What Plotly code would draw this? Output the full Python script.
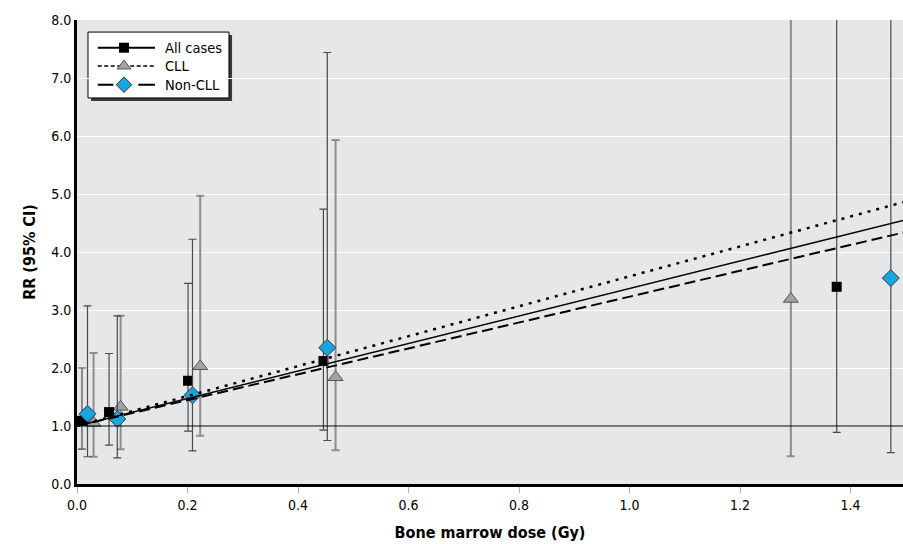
import plotly.graph_objects as go

# ---- data ----
dose_all = [0.009, 0.058, 0.201, 0.446, 1.375]
rr_all = [1.09, 1.24, 1.78, 2.12, 3.40]
lo_all = [0.60, 0.67, 0.91, 0.93, 0.89]
hi_all = [2.00, 2.25, 3.46, 4.74, 12.0]

dose_cll = [0.030, 0.079, 0.223, 0.468, 1.292]
rr_cll = [1.05, 1.33, 2.03, 1.84, 3.19]
lo_cll = [0.47, 0.60, 0.83, 0.58, 0.48]
hi_cll = [2.26, 2.90, 4.97, 5.93, 12.0]

dose_non = [0.019, 0.073, 0.209, 0.453, 1.473]
rr_non = [1.21, 1.12, 1.53, 2.35, 3.55]
lo_non = [0.47, 0.45, 0.57, 0.75, 0.54]
hi_non = [3.07, 2.90, 4.22, 7.44, 12.0]

# fitted linear excess relative risk per Gy
err_all = 2.37
err_cll = 2.58
err_non = 2.23
fit_dose = [0.0, 1.5]

series_names = ["All cases", "CLL", "Non-CLL"]

x_ticks = [0.0, 0.2, 0.4, 0.6, 0.8, 1.0, 1.2, 1.4]
y_ticks = [0, 1, 2, 3, 4, 5, 6, 7, 8]

FONT = "DejaVu Sans Condensed, Liberation Sans Narrow, Arial Narrow, sans-serif"

# styles
SQ = dict(symbol="square", size=10, color="#000000", line=dict(color="#000000", width=0))
TRI = dict(symbol="triangle-up", size=13, color="#a3a3a3", line=dict(color="#555555", width=1))
DIA = dict(symbol="diamond", size=13, color="#18a6e0", line=dict(color="#333333", width=1))

fig = go.Figure()


def err(vals, lo, hi):
    return dict(type="data", symmetric=False,
                array=[h - v for v, h in zip(vals, hi)],
                arrayminus=[v - l for v, l in zip(vals, lo)])


# points with CIs
fig.add_trace(go.Scatter(
    x=dose_cll, y=rr_cll, mode="markers", marker=TRI,
    error_y=dict(**err(rr_cll, lo_cll, hi_cll), color="#8e8e8e", thickness=2, width=4)))
fig.add_trace(go.Scatter(
    x=dose_all, y=rr_all, mode="markers", marker=SQ,
    error_y=dict(**err(rr_all, lo_all, hi_all), color="#4a4a4a", thickness=1.2, width=4)))
fig.add_trace(go.Scatter(
    x=dose_non, y=rr_non, mode="markers", marker=DIA,
    error_y=dict(**err(rr_non, lo_non, hi_non), color="#4a4a4a", thickness=1.2, width=4)))

# fitted lines
fig.add_trace(go.Scatter(
    x=fit_dose, y=[1 + err_all * d for d in fit_dose], mode="lines",
    line=dict(color="#000000", width=1.5, dash="solid")))
fig.add_trace(go.Scatter(
    x=fit_dose, y=[1 + err_cll * d for d in fit_dose], mode="lines",
    line=dict(color="#000000", width=2.5, dash="3px,6px")))
fig.add_trace(go.Scatter(
    x=fit_dose, y=[1 + err_non * d for d in fit_dose], mode="lines",
    line=dict(color="#000000", width=2, dash="11px,5px")))

# ---- hand-built legend on an overlay axis pair spanning the plot area [0,1]x[0,1] ----
leg_rows = [0.9403, 0.9009, 0.8606]
leg_line_x = [0.0251, 0.0944]
leg_mark_x = 0.0569
leg_text_x = 0.1045
leg_lines = [dict(color="#000000", width=2, dash="solid"),
             dict(color="#000000", width=1.5, dash="4px,2.5px"),
             dict(color="#000000", width=2, dash="15.6px,25px,17px")]
leg_marks = [SQ, dict(TRI, size=12), dict(DIA, size=12)]
for name, ry, ln, mk in zip(series_names, leg_rows, leg_lines, leg_marks):
    fig.add_trace(go.Scatter(x=leg_line_x, y=[ry, ry], mode="lines", line=ln,
                             xaxis="x2", yaxis="y2", hoverinfo="skip"))
    fig.add_trace(go.Scatter(x=[leg_mark_x], y=[ry], mode="markers", marker=mk,
                             xaxis="x2", yaxis="y2", hoverinfo="skip"))
    fig.add_annotation(x=leg_text_x, y=ry, xref="x2", yref="y2", text=name,
                       showarrow=False, xanchor="left", yanchor="middle",
                       font=dict(size=14.5, color="#000000"))

# legend shadow and box
fig.add_shape(type="rect", xref="paper", yref="paper",
              x0=0.0170, x1=0.1877, y0=0.8255, y1=0.9677,
              fillcolor="#3a3a3a", line=dict(width=0), layer="between")
fig.add_shape(type="rect", xref="paper", yref="paper",
              x0=0.0133, x1=0.1840, y0=0.8320, y1=0.9740,
              fillcolor="#ffffff", line=dict(color="#000000", width=1), layer="between")

# reference line RR = 1
fig.add_shape(type="line", xref="paper", x0=0, x1=1, yref="y", y0=1, y1=1,
              line=dict(color="#000000", width=1.2), layer="above")

fig.update_layout(
    width=903, height=544,
    margin=dict(l=77, r=0, t=20, b=60),
    paper_bgcolor="#ffffff", plot_bgcolor="#e6e7e9",
    font=dict(family=FONT, size=14, color="#000000"),
    showlegend=False,
    xaxis=dict(range=[0, 1.495], tickvals=x_ticks,
               ticktext=[f"{v:.1f}" for v in x_ticks],
               showgrid=False, zeroline=False,
               showline=True, linecolor="#000000", linewidth=3,
               ticks="outside", ticklen=6, tickcolor="#b0b0b0", tickwidth=1,
               tickfont=dict(size=14),
               title=dict(text="<b>Bone marrow dose (Gy)</b>", font=dict(size=16), standoff=16)),
    yaxis=dict(range=[0, 8], tickvals=y_ticks,
               ticktext=[f"{v:.1f}" for v in y_ticks],
               showgrid=True, gridcolor="#ffffff", gridwidth=1.2,
               zeroline=False, showline=True, linecolor="#000000", linewidth=3,
               ticks="", tickfont=dict(size=14),
               title=dict(text="<b>RR (95% CI)</b>", font=dict(size=16), standoff=12)),
    xaxis2=dict(overlaying="x", range=[0, 1], visible=False, anchor="y2"),
    yaxis2=dict(overlaying="y", range=[0, 1], visible=False, anchor="x2"),
)

fig.write_html(
    "out.html",
    config={"displayModeBar": False},
    post_script="document.documentElement.style.overflow='hidden';"
                "document.body.style.margin='0';document.body.style.overflow='hidden';",
)
